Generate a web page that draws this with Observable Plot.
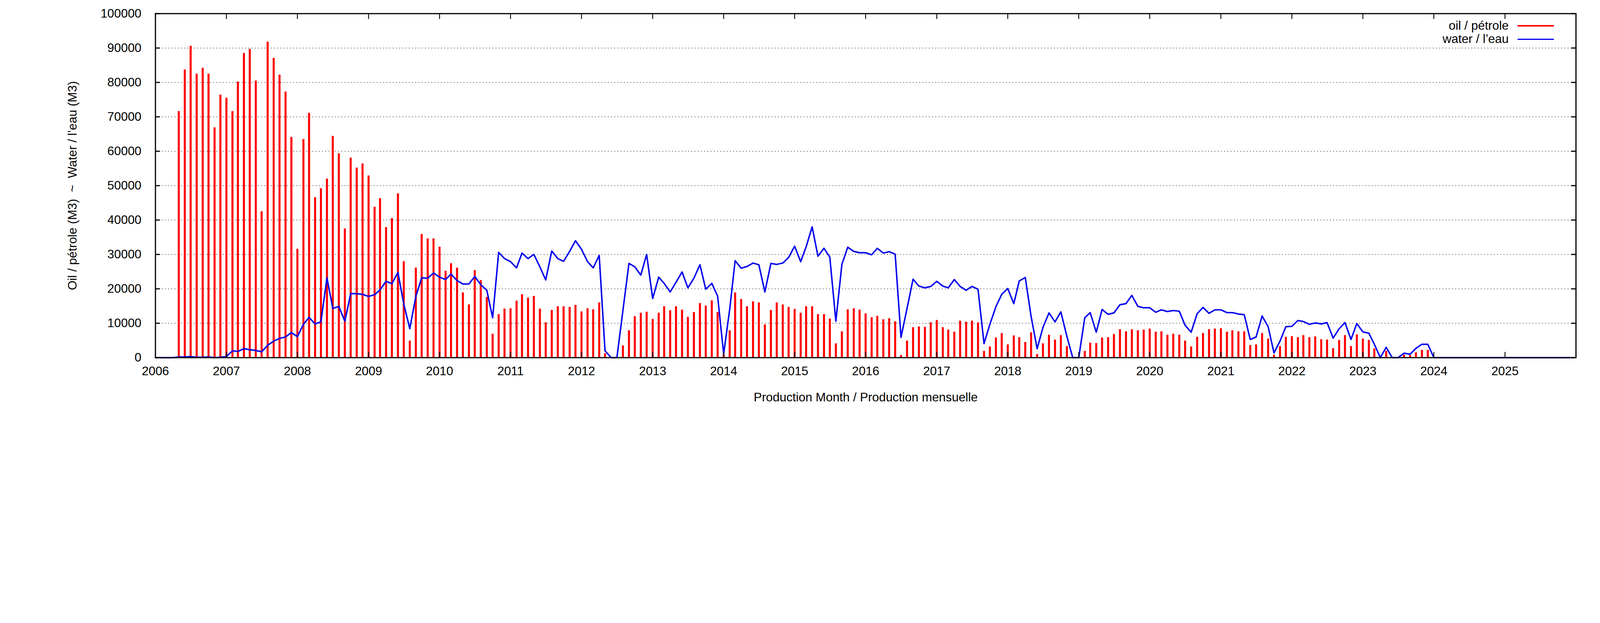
<!DOCTYPE html>
<html><head><meta charset="utf-8">
<script src="https://cdn.jsdelivr.net/npm/d3@7"></script>
<script src="https://cdn.jsdelivr.net/npm/@observablehq/plot@0.6"></script>
<style>html,body{margin:0;padding:0;background:#fff;overflow:hidden;font-family:"Liberation Sans",Arial,sans-serif}#wrap{position:relative}
.leg{position:absolute;text-align:right}
.sw{position:absolute}</style>
</head><body><div id="wrap"></div>
<script>
const oil = {
2006:[0,0,0,0,71600,83700,90600,82500,84200,82500,66900,76400],
2007:[75500,71600,80200,88500,89700,80500,42500,91800,87100,82200,77300,64100],
2008:[31600,63500,71100,46600,49200,52000,64400,59300,37500,58100,55200,56400],
2009:[52900,43800,46300,37900,40500,47700,28000,4900,26100,35900,34600,34600],
2010:[32200,25200,27400,26100,18900,15400,25400,22500,17600,6900,12600,14200],
2011:[14300,16500,18400,17400,17900,14200,10200,13800,14900,14900,14700,15300],
2012:[13400,14300,14000,16000,1200,0,0,3500,7900,12000,13000,13300],
2013:[11200,13000,14900,13700,14900,13900,11800,13200,15800,15100,16600,13200],
2014:[900,7900,18900,17000,14900,16300,16000,9600,13800,16000,15400,14700],
2015:[14100,13000,14900,14900,12600,12600,11300,4100,7600,14000,14300,13900],
2016:[12800,11700,12100,11100,11400,10500,700,4900,8800,9000,8900,10200],
2017:[10900,8800,8100,7500,10700,10400,10700,10200,1900,3200,5800,7100],
2018:[3800,6400,5900,4500,7300,1000,4100,6600,5200,6500,3300,0],
2019:[0,1900,4300,4200,5800,5900,6800,8200,7600,8200,7900,8100],
2020:[8400,7500,7600,6600,6900,6600,4900,3200,6000,7100,8200,8400],
2021:[8500,7500,7900,7600,7600,3600,3800,7100,5500,800,3300,6000],
2022:[6200,5900,6500,5900,6100,5300,5200,2700,5100,6500,3300,6700],
2023:[5500,5100,2600,0,1900,0,0,800,700,1500,2200,2200],
2024:[0,0,0,0,0,0,0,0,0,0,0,0],
2025:[0,0,0,0,0,0,0,0,0,0,0,0]
};
const water = {
2006:[0,0,0,0,200,200,300,100,100,200,0,100],
2007:[300,2000,1800,2600,2300,2100,1700,3600,4800,5600,6000,7300],
2008:[6100,9700,11700,9800,10400,23200,14300,14900,10600,18600,18600,18400],
2009:[17800,18300,19700,22200,21500,24800,15600,8400,17800,23200,23100,24600],
2010:[23400,22700,24300,22400,21400,21400,23600,21200,19600,11600,30600,28800],
2011:[27900,26100,30400,28800,30000,26400,22600,31000,28800,28000,30900,34000],
2012:[31500,27900,26100,29700,2000,0,0,13700,27400,26400,24000,30000],
2013:[17200,23400,21600,19100,21900,24900,20300,23100,27000,19900,21600,17900],
2014:[1100,14000,28200,26000,26500,27500,27000,19100,27400,27100,27500,29100],
2015:[32400,27900,32200,38000,29500,31800,29200,10600,27100,32100,30900,30500],
2016:[30500,29900,31800,30400,30800,30100,5900,14300,22800,20800,20300,20700],
2017:[22200,20800,20300,22700,20700,19600,20700,19900,4100,9700,14800,18400],
2018:[20100,15700,22300,23300,12000,2600,8800,13000,10400,13300,6200,0],
2019:[0,11600,13100,7400,14000,12600,13000,15400,15700,18100,14900,14500],
2020:[14500,13200,13900,13400,13700,13500,9400,7400,12800,14600,12900,13900],
2021:[13900,13100,13100,12700,12500,5300,6000,12100,9000,1400,4800,9000],
2022:[9100,10800,10500,9700,10100,9800,10200,5700,8400,10200,5300,9900],
2023:[7500,7100,3900,0,3000,0,0,1300,1000,2700,3900,3900],
2024:[0,0,0,0,0,0,0,0,0,0,0,0],
2025:[0,0,0,0,0,0,0,0,0,0,0,0]
};
const yTicks = [0,10000,20000,30000,40000,50000,60000,70000,80000,90000,100000];
const xTickYears = d3.range(2006, 2026);

const W = window.innerWidth || 5483;
const s = W / 5483;
const H = Math.round(1594 * s);
const rows = [];
for (const y of Object.keys(oil)) for (let m = 0; m < 12; m++)
  rows.push({date: new Date(Date.UTC(+y, m, 1)), oil: oil[y][m], water: water[y][m]});
const xTicks = xTickYears.map(y => new Date(Date.UTC(y,0,1)));
const x0 = new Date(Date.UTC(2006,0,1)), x1 = new Date(Date.UTC(2026,0,1));
const tickLenX = 1600, tickLenY = 24*24*3600*1000;

const chart = Plot.plot({
  width: W, height: H,
  marginLeft: 532*s, marginRight: 83*s, marginTop: 46*s, marginBottom: 370*s,
  style: {fontSize: (42*s)+"px", fontFamily: "Liberation Sans, Arial, sans-serif", background: "white", maxWidth: "none"},
  x: {type: "utc", domain: [x0, x1]},
  y: {domain: [0, 100000]},
  marks: [
    Plot.ruleY(yTicks.slice(1, -1), {stroke: "#333", strokeWidth: 2*s, strokeDasharray: `${3*s},${8*s}`}),
    Plot.ruleX(rows.filter(d => d.oil > 0), {x: "date", y1: 0, y2: "oil", stroke: "#ff0000", strokeWidth: 7*s}),
    Plot.line(rows, {x: "date", y: "water", stroke: "#0000ee", strokeWidth: 5*s}),
    Plot.ruleX(xTicks, {x: d => d, y1: 0, y2: tickLenX, stroke: "black", strokeWidth: 3*s}),
    Plot.ruleX(xTicks, {x: d => d, y1: 100000 - tickLenX, y2: 100000, stroke: "black", strokeWidth: 3*s}),
    Plot.ruleY(yTicks, {y: d => d, x1: x0, x2: new Date(+x0 + tickLenY), stroke: "black", strokeWidth: 4*s}),
    Plot.ruleY(yTicks, {y: d => d, x1: new Date(+x1 - tickLenY), x2: x1, stroke: "black", strokeWidth: 4*s}),
    Plot.frame({stroke: "black", strokeWidth: 4*s}),
    Plot.axisX({ticks: xTicks, tickFormat: d3.utcFormat("%Y"), tickSize: 0, tickPadding: 30*s,
      label: "Production Month / Production mensuelle", labelAnchor: "center", labelArrow: "none", labelOffset: 150*s}),
    Plot.axisY({ticks: yTicks, tickFormat: d => String(d), tickSize: 0, tickPadding: 48*s,
      label: "Oil / pétrole (M3)  ~  Water / l’eau (M3)", labelAnchor: "center", labelArrow: "none", labelOffset: 300*s})
  ]
});
const wrap = document.getElementById("wrap");
wrap.style.width = W + "px"; wrap.style.height = H + "px";
wrap.appendChild(chart);
const leg = (top, text, color) =>
  `<div class="leg" style="top:${top*s}px;left:${4570*s}px;width:${600*s}px;font-size:${42*s}px;line-height:${48*s}px">${text}</div>` +
  `<div class="sw" style="top:${(top+22)*s}px;left:${5200*s}px;width:${125*s}px;height:${5*s}px;background:${color}"></div>`;
wrap.insertAdjacentHTML("beforeend", leg(64, "oil / pétrole", "#ff0000") + leg(110, "water / l’eau", "#0000ee"));
</script></body></html>
